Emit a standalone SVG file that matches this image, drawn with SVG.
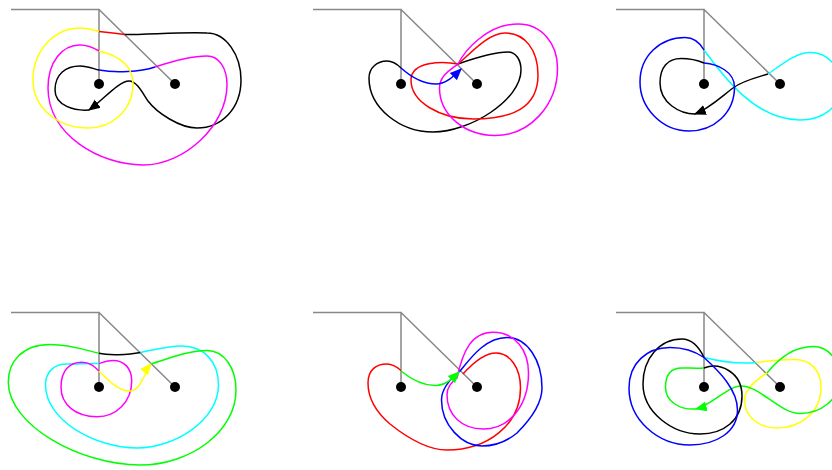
<svg xmlns="http://www.w3.org/2000/svg" xmlns:xlink="http://www.w3.org/1999/xlink" width="832" height="470" viewBox="0 0 832 470">
<style>
.fr{stroke:#888;stroke-width:1.5;fill:none}
.c{fill:none;stroke-width:1.5}
.k{stroke:#000}.r{stroke:#f00}.b{stroke:#00f}.y{stroke:#ff0}.m{stroke:#f0f}.cy{stroke:#0ff}.gr{stroke:#0f0}
</style>
<defs>
<g id="frame"><path class="fr" d="M11,9.5H99V84M99,9.5L175,84"/><circle cx="99" cy="84" r="5"/><circle cx="175" cy="84" r="5"/></g>
<marker id="ak" viewBox="0 0 10 10" refX="9" refY="5" markerWidth="12" markerHeight="12" markerUnits="userSpaceOnUse" orient="auto"><path d="M0,0.8L10,5L0,9.2z" fill="#000"/></marker>
<marker id="ab" viewBox="0 0 10 10" refX="9" refY="5" markerWidth="12" markerHeight="12" markerUnits="userSpaceOnUse" orient="auto"><path d="M0,0.8L10,5L0,9.2z" fill="#00f"/></marker>
<marker id="ay" viewBox="0 0 10 10" refX="9" refY="5" markerWidth="12" markerHeight="12" markerUnits="userSpaceOnUse" orient="auto"><path d="M0,0.8L10,5L0,9.2z" fill="#ff0"/></marker>
<marker id="ag" viewBox="0 0 10 10" refX="9" refY="5" markerWidth="12" markerHeight="12" markerUnits="userSpaceOnUse" orient="auto"><path d="M0,0.8L10,5L0,9.2z" fill="#0f0"/></marker>
</defs>
<g id="frames">
<use xlink:href="#frame"/>
<use xlink:href="#frame" x="302"/>
<use xlink:href="#frame" x="605"/>
<use xlink:href="#frame" y="303"/>
<use xlink:href="#frame" x="302" y="303"/>
<use xlink:href="#frame" x="605" y="303"/>
</g>
<g id="panel1">
<path class="c r" d="M99,31.5C108,32.3 117,33.3 125,34.5"/>
<path class="c k" marker-end="url(#ak)" d="M125,34.5C150,34.5 180,32 207,33C226,33 241,55 241,80C241,108 222,128 197,128C180,128 157,113 148,101C143,94 137,81 129,81C119,81 103,100 89,110"/>
<path class="c k" d="M89,110C75,111 55,106 55,90C55,74 66,66 80,66C88,66 94,69 99,70"/>
<path class="c b" d="M99,70C115,73 140,72 155,67"/>
<path class="c m" d="M155,67C170,62 192,56 207,56C219,56 227,68 227,85C227,125 185,165 143,165C100,165 48,135 48,88C48,62 62,45 80,45C88,45 94,48 99,51"/>
<path class="c y" d="M99,51C120,56 133,66 133,84C133,110 112,128 88,128C58,128 33,108 33,80C33,50 55,28 80,28C88,28 94,30 99,31.5"/>
</g>
<g id="panel2">
<path class="c k" d="M458,64C472,59 492,52 508,52C516,52 521,60 521,70C521,100 470,132 433,132C400,132 369,108 369,78C369,68 377,61 387,61C393,61 397,64 401,68"/>
<path class="c r" d="M458,64C443,61 411,61 411,80C411,102 440,119 473,119C512,119 538,108 538,75C538,50 525,33 505,33C488,33 470,54 458,64"/>
<path class="c m" d="M458,64C464,52 486,24 518,24C542,24 557.5,44 557.5,68C557.5,105 530,135.5 495,135.5C465,135.5 439.5,115 439.5,88C439.5,76 450,70 458,64"/>
<path class="c b" marker-end="url(#ab)" d="M401,68C410,76 422,84 436,84C446,84 454,76 461,69"/>
</g>
<g id="panel3">
<path class="c cy" d="M704,50C723,76 755,120 800,120C822,120 840,108 840,87C840,66 828,52.5 810,52.5C795,52.5 780,66 768,74"/>
<path class="c k" marker-end="url(#ak)" d="M768,74C755,78 742,81 733,88C722,96 710,108 695,114"/>
<path class="c k" d="M695,114C680,114 660,103 660,83C660,67 668,58.5 681,58.5C690,58.5 697,60 704,63"/>
<path class="c b" d="M704,63C718,64 734.5,72 734.5,87C734.5,113 714,131 689,131C662,131 640,108 640,82C640,56 660,37.5 685,37.5C694,37.5 700,43 704,50"/>
</g>
<g id="panel4">
<path class="c k" d="M99,353.3C108,355.5 128,355 140.5,352.5"/>
<path class="c cy" d="M140.5,352.5C155,349.5 168,346 182,346C204,346 218.5,362 218.5,385C218.5,420 175,448 137,448C95,448 45.5,420 45.5,385C45.5,372 54,364 66.7,364C78,364 90,363 99,363.5"/>
<path class="c m" d="M99,363.5C104,362 108,360.5 113,360.5C124,360.5 131.7,368 131.7,381C131.7,402 116,416.7 97,416.7C76,416.7 61,405 61,387C61,370 70,362.3 81.7,362.3C90,362.3 94,366 99,371"/>
<path class="c y" marker-end="url(#ay)" d="M99,371C107,379 118,391 130,391C141,391 145,371 151,364"/>
<path class="c gr" d="M151,364C168,359 188,350.5 207,350.5C224,350.5 236,368 236,390C236,432 190,465 140,465C80,465 8.3,425 8.3,382C8.3,362 22,344.5 50,344.5C70,344.5 85,350 99,353.3"/>
</g>
<g id="panel5">
<path class="c r" d="M463,374C472,364 484,353 496,353C510,353 520.5,368 520.5,388C520.5,425 487,450 447,450C427,450 405,436 390,424C376,412 368,398 368,383C368,370 376,364 387,364C393,364 397,367 401,370.5"/>
<path class="c b" d="M460,371C470,359 485,337.5 507,337.5C527,337.5 542,360 542,388C542,405 530,420 517,433C506,442 495,446 482,446C462,446 441.5,425 441.5,400C441.5,388 450,379 460,371"/>
<path class="c m" d="M457,378C463,350 472,332.3 493,332.3C515,332.3 528.5,350 528.5,373C528.5,405 510,429 483,429C462,429 447,415 447,395C447,387 451,383 457,378"/>
<path class="c gr" marker-end="url(#ag)" d="M401,371C412,380 425,386 437,385.5C446,385 452,379 459,372"/>
</g>
<g id="panel6">
<path class="c cy" d="M704,357.5C720,361.5 740,364 756.5,362.5"/>
<path class="c y" d="M756.5,362.5C768,361 780,359.5 795,359.5C810,359.5 821,370 821,387C821,412 801,428 777,428C758,428 744.5,416 744.5,400C744.5,390 756,380 767,373"/>
<path class="c gr" marker-end="url(#ag)" d="M767,373C779,358 795,346.5 813,346.5C828,346.5 840,360 840,378C840,400 820,413.5 800,413.5C780,413.5 760,386 741,386C728,386 712,405 696,409"/>
<path class="c gr" d="M696,409C680,410 665.5,402 665.5,387C665.5,374 672,368 682,368C690,368 697,368.5 704,368"/>
<path class="c k" d="M704,368C720,362 742,372 742,396C742,420 724,434 700,434C672,434 643,412 643,384C643,358 660,339 682,339C692,339 699,347 704,357.5"/>
<path class="c b" d="M704,357.5C720,372 737.5,390 737.5,410C737.5,432 716,445 690,445C658,445 629,420 629,388C629,363 647,347.5 670,347.5C685,347.5 696,352 704,357.5"/>
</g>
</svg>
